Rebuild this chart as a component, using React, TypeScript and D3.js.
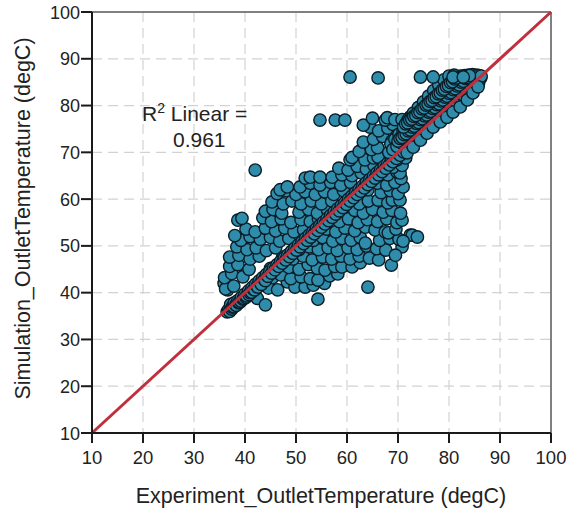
import React from "react";
import * as d3 from "d3";

const xTicks = [10, 20, 30, 40, 50, 60, 70, 80, 90, 100];
const yTicks = [10, 20, 30, 40, 50, 60, 70, 80, 90, 100];
const xTitle = "Experiment_OutletTemperature (degC)";
const yTitle = "Simulation_OutletTemperature (degC)";
const r2Value = "0.961";

// scattered cloud of observations [experiment, simulation]
const cloudPoints: [number, number][] = [
  [42.4, 38.8], [44.0, 37.4], [54.3, 38.6], [36.6, 40.6], [35.9, 42.0],
  [36.2, 40.8], [37.8, 41.4], [44.6, 41.0], [46.4, 40.6], [48.3, 42.3], [49.8, 41.2], [51.8, 41.2], [53.4, 41.6], [55.6, 42.0], [64.1, 41.2],
  [36.0, 43.2], [37.4, 44.1], [39.6, 43.4], [45.4, 43.2], [47.0, 43.8], [49.0, 43.0], [51.0, 43.4], [52.8, 43.0], [54.3, 42.7], [56.6, 43.6], [58.2, 44.0],
  [37.0, 45.6], [38.6, 46.0], [40.8, 45.0], [45.0, 45.2], [46.8, 46.0], [48.6, 45.4], [50.6, 45.0], [52.4, 46.0], [54.2, 45.2], [55.7, 44.8], [57.6, 45.6], [59.0, 45.5], [61.0, 45.5], [62.6, 46.4],
  [37.0, 47.6], [38.8, 48.0], [41.0, 47.2], [42.8, 47.8], [47.4, 47.6], [49.4, 47.2], [51.4, 47.8], [53.2, 47.0], [55.2, 47.6], [57.0, 47.2], [58.8, 47.8], [60.6, 47.2], [62.4, 47.8], [64.4, 47.4], [66.2, 47.0], [68.7, 45.9],
  [38.4, 49.8], [40.4, 49.2], [42.2, 49.6], [44.2, 49.0], [46.0, 49.6], [50.6, 49.2], [52.6, 49.8], [54.4, 49.2], [56.3, 49.6], [58.1, 49.0], [60.2, 49.6], [62.0, 49.2], [63.8, 50.0], [65.8, 49.4], [67.6, 49.1], [70.8, 49.8], [69.5, 48.0],
  [39.2, 51.2], [41.0, 52.0], [43.0, 51.4], [45.0, 51.8], [46.8, 51.0], [48.6, 51.6], [53.4, 51.2], [55.2, 51.8], [57.2, 51.0], [59.0, 51.6], [60.8, 51.2], [62.6, 51.8], [63.6, 50.6], [66.4, 51.2], [68.4, 51.6], [70.2, 51.4], [72.4, 52.3],
  [38.0, 52.2], [40.2, 53.6], [42.0, 53.0], [44.0, 53.8], [46.0, 53.2], [47.8, 53.8], [49.6, 53.0], [51.5, 53.4], [56.0, 53.6], [57.8, 53.0], [59.6, 53.8], [61.5, 53.2], [63.6, 54.0], [65.5, 53.4], [67.5, 53.0], [68.1, 52.8], [69.6, 53.6], [72.8, 52.3], [73.8, 51.9], [71.0, 51.0],
  [38.6, 55.5], [39.4, 55.9], [43.5, 56.0], [45.2, 55.2], [47.1, 55.8], [49.0, 55.0], [51.0, 55.6], [52.8, 55.2], [54.4, 55.8], [58.5, 55.2], [60.3, 55.8], [62.2, 55.0], [64.0, 55.6], [66.0, 55.2], [67.8, 55.8], [69.8, 55.0], [70.8, 55.5],
  [44.0, 57.4], [45.5, 57.8], [47.2, 57.0], [50.6, 57.2], [52.5, 57.8], [54.2, 57.0], [56.2, 57.6], [58.0, 57.2], [61.5, 57.6], [63.2, 57.0], [65.0, 57.8], [67.1, 57.2], [68.8, 57.6], [70.5, 57.0],
  [45.3, 59.4], [47.5, 59.0], [49.2, 59.6], [51.0, 59.0], [53.0, 59.6], [55.0, 59.0], [57.0, 59.6], [62.4, 59.0], [64.2, 59.6], [66.1, 59.8], [68.0, 59.2], [68.9, 59.8], [70.4, 59.8],
  [46.3, 61.2], [48.1, 61.8], [50.0, 61.0], [51.8, 61.6], [53.8, 61.0], [55.6, 61.6], [57.4, 61.0], [59.3, 61.8], [64.1, 62.0], [66.7, 61.4], [68.5, 61.8], [70.0, 61.2], [71.0, 62.6],
  [46.9, 62.0], [48.3, 62.6], [50.8, 62.6], [52.8, 63.4], [54.7, 63.0], [56.8, 63.6], [58.8, 63.0], [60.7, 63.6], [66.0, 63.4], [67.8, 63.0], [69.4, 63.6], [70.6, 64.4],
  [51.8, 64.5], [52.8, 64.7], [54.7, 64.7], [57.1, 64.7], [59.0, 65.2], [61.0, 65.0], [62.8, 65.6], [68.0, 65.2], [69.8, 65.8], [70.4, 65.6],
  [58.4, 66.6], [60.2, 66.2], [62.0, 67.0], [63.8, 66.4], [65.3, 67.2], [69.0, 66.8], [70.8, 67.2],
  [60.6, 68.4], [61.0, 68.9], [63.5, 68.4], [65.2, 68.8], [66.1, 69.0], [69.8, 68.4], [71.5, 68.8],
  [62.4, 70.2], [64.8, 70.6], [66.0, 71.0], [68.9, 70.5], [71.2, 70.4],
  [63.2, 72.2], [65.2, 72.8], [67.0, 73.4], [68.8, 72.4], [70.5, 72.6],
  [64.5, 75.4], [66.2, 74.6], [68.0, 75.2], [70.0, 74.0], [69.0, 76.0],
  [54.7, 76.9], [57.7, 76.9], [59.6, 76.9], [63.2, 75.8], [65.0, 77.3], [67.5, 76.9], [67.9, 77.4], [69.4, 77.0], [70.8, 77.0], [72.4, 77.6],
  [42.0, 66.2],
];

// dense band of observations near the identity line
const bandPoints: [number, number][] = [
  [36.5, 35.9], [36.8, 36.4], [37.0, 36.0], [37.2, 37.5], [37.4, 36.5], [37.5, 36.9], [37.8, 37.0], [37.9, 37.8], [38.2, 37.4], [38.3, 37.3],
  [38.6, 38.3], [38.8, 37.8], [38.9, 38.0], [39.2, 38.2], [39.3, 39.0], [39.6, 38.6], [39.8, 38.8], [40.0, 39.7], [40.2, 39.0], [40.3, 39.3],
  [40.7, 40.4], [40.8, 39.6], [41.0, 40.0], [41.3, 40.1], [41.4, 41.1], [41.7, 40.7], [41.9, 40.6], [42.1, 41.8], [42.4, 41.4], [42.5, 41.2],
  [42.8, 42.5], [43.1, 42.1], [43.2, 41.8], [43.5, 43.2], [43.8, 42.8], [44.0, 42.6], [44.2, 43.9], [44.5, 43.5], [44.9, 44.6], [45.2, 44.2],
  [45.6, 45.3], [45.9, 44.9], [46.3, 46.0], [46.6, 45.6], [47.0, 46.7], [47.3, 46.3], [47.7, 47.4], [48.0, 47.0], [48.4, 48.1], [48.7, 47.7],
  [49.1, 48.8], [49.4, 48.4], [49.8, 49.5], [50.1, 49.1], [50.5, 50.2], [50.8, 49.8], [51.2, 50.9], [51.5, 50.5], [51.9, 51.6], [52.2, 51.2],
  [52.6, 52.3], [52.9, 51.9], [53.3, 53.0], [53.6, 52.6], [54.0, 53.7], [54.3, 53.3], [54.7, 54.4], [55.0, 54.0], [55.4, 55.1], [55.7, 54.7],
  [56.1, 55.8], [56.4, 55.4], [56.8, 56.5], [57.1, 56.1], [57.5, 57.2], [57.8, 56.8], [58.2, 57.9], [58.5, 57.5], [58.9, 58.6], [59.2, 58.2],
  [59.6, 59.3], [59.9, 58.9], [60.3, 60.0], [60.6, 59.6], [61.0, 60.7], [61.3, 60.3], [61.7, 61.4], [62.0, 61.0], [62.4, 62.1], [62.7, 61.7],
  [63.1, 62.8], [63.4, 62.4], [63.8, 63.5], [64.1, 63.1], [64.5, 64.2], [64.8, 63.8], [65.2, 64.9], [65.5, 64.5], [65.9, 65.6], [66.2, 65.2],
  [66.6, 66.3], [66.9, 65.9], [67.3, 67.0], [67.6, 66.6], [68.0, 67.7], [68.3, 67.3], [68.7, 68.4], [69.0, 68.0], [69.4, 69.1], [69.7, 68.7],
  [70.1, 69.8], [70.4, 69.4], [70.8, 70.5], [71.1, 70.1], [71.5, 71.2], [71.8, 70.8], [72.2, 71.9], [72.5, 71.5], [72.9, 72.6], [73.2, 72.2],
  [73.6, 73.3], [73.9, 72.9], [74.3, 74.0], [74.6, 73.6], [75.0, 74.7], [75.3, 74.3], [75.7, 75.4], [76.0, 75.0], [76.4, 76.1], [76.7, 75.7],
  [77.1, 76.8], [77.4, 76.4], [77.8, 77.5], [78.1, 77.1], [78.5, 78.2], [78.8, 77.8], [79.2, 78.9], [79.5, 78.5], [79.9, 79.6], [80.2, 79.2],
  [80.6, 80.3], [80.9, 79.9], [81.3, 81.0], [81.6, 80.6], [82.0, 81.7], [82.3, 81.3], [82.7, 82.4], [83.0, 82.0], [83.4, 83.1], [83.7, 82.7],
  [84.1, 83.8], [84.4, 83.4], [84.8, 84.5], [85.1, 84.1], [85.5, 85.2], [85.8, 84.8], [86.2, 85.9],
];

// upper-right wedge of observations just above the identity line
const wedgePoints: [number, number][] = [
  [68.2, 70.0], [68.6, 71.8], [69.0, 70.6], [69.4, 72.8], [69.8, 71.3], [70.2, 73.9], [70.6, 72.1], [71.0, 74.6], [71.4, 72.9], [71.8, 75.5],
  [72.2, 73.6], [72.6, 76.4], [73.0, 74.5], [73.4, 77.3], [73.8, 75.2], [74.2, 78.0], [74.6, 76.1], [75.0, 79.0], [75.4, 76.9], [75.8, 79.8],
  [76.2, 77.6], [76.6, 80.7], [77.0, 78.5], [77.4, 81.6], [77.8, 79.2], [78.2, 82.5], [78.6, 80.1], [79.0, 83.3], [79.4, 80.9], [79.8, 84.2],
  [80.2, 81.7], [80.6, 85.0], [81.0, 82.5], [81.4, 85.8], [81.8, 83.2], [82.2, 86.3], [82.6, 84.0], [83.0, 86.4], [83.4, 84.9], [83.8, 86.5],
  [84.2, 85.6], [84.6, 86.6], [85.0, 86.2], [85.4, 86.5], [85.9, 86.4], [86.3, 86.3],
  [72.0, 77.0], [73.0, 78.4], [74.0, 79.6], [75.0, 80.8], [76.0, 82.0], [77.0, 83.2], [78.0, 84.4], [79.0, 85.5], [80.0, 86.3], [81.0, 86.5],
  [71.0, 73.2], [72.4, 74.8], [73.6, 76.2], [74.8, 77.5], [76.0, 78.9], [77.2, 80.2], [78.4, 81.4], [79.6, 82.8], [80.8, 84.1], [82.0, 85.2],
  [70.0, 72.4], [70.4, 73.0], [70.8, 73.2], [71.2, 73.8], [71.6, 74.0], [72.0, 74.6], [72.4, 74.8], [72.8, 75.4], [73.2, 75.6], [73.6, 76.2],
  [74.0, 76.4], [74.4, 77.0], [74.8, 77.2], [75.2, 77.8], [75.6, 78.0], [76.0, 78.6], [76.4, 78.8], [76.8, 79.4], [77.2, 79.6], [77.6, 80.2],
  [78.0, 80.4], [78.4, 81.0], [78.8, 81.2], [79.2, 81.8], [79.6, 82.0], [80.0, 82.6], [80.4, 82.8], [80.8, 83.4], [81.2, 83.6], [81.6, 84.2],
  [82.0, 84.4], [82.4, 85.0], [82.8, 85.2], [83.2, 85.8], [83.6, 86.0], [84.0, 86.4],
  [71.1, 75.4], [71.5, 76.1], [71.9, 76.3], [72.3, 76.9], [72.7, 77.1], [73.1, 77.7], [73.5, 77.9], [73.9, 78.5], [74.3, 78.7], [74.7, 79.3],
  [75.1, 79.5], [75.5, 80.1], [75.9, 80.3], [76.3, 80.9], [76.7, 81.1], [77.1, 81.7], [77.5, 81.9], [77.9, 82.5], [78.3, 82.7], [78.7, 83.3],
  [79.1, 83.5], [79.5, 84.1], [79.9, 84.3], [80.3, 84.9], [80.7, 85.1], [81.1, 85.7], [81.5, 85.9],
];

// visible points on top: lower edge of the band and the 86 degC row
const topPoints: [number, number][] = [
  [71.8, 69.9], [73.0, 71.1], [74.4, 72.6], [75.7, 74.1], [76.9, 75.4], [78.3, 76.5], [79.6, 77.5], [80.8, 78.6], [82.2, 79.7], [83.6, 81.2],
  [84.7, 82.7], [85.7, 84.0],
  [60.6, 86.1], [66.1, 85.9], [74.4, 86.1], [76.9, 86.1], [80.8, 86.1], [82.8, 86.1],
];

const W = 569;
const H = 511;
const left = 92, right = 551, top = 12, bottom = 433;
const FONT = "'Liberation Sans', Arial, sans-serif";

export default function App() {
  const x = d3.scaleLinear().domain([10, 100]).range([left, right]);
  const y = d3.scaleLinear().domain([10, 100]).range([bottom, top]);
  const all = [...cloudPoints, ...bandPoints, ...wedgePoints, ...topPoints];
  const gridX = xTicks.filter((t) => t > 10 && t < 100);
  const gridY = yTicks.filter((t) => t > 10 && t < 100);
  return (
    <svg width={W} height={H} style={{ position: "absolute", left: 0, top: 0, background: "#fff" }} fontFamily={FONT}>
      <rect x={0} y={0} width={W} height={H} fill="#fff" />
      {gridX.map((t) => (
        <line key={"gx" + t} x1={x(t)} x2={x(t)} y1={top} y2={bottom} stroke="#d2d2d2" strokeWidth={1.2} strokeDasharray="10,6" />
      ))}
      {gridY.map((t) => (
        <line key={"gy" + t} x1={left} x2={right} y1={y(t)} y2={y(t)} stroke="#d2d2d2" strokeWidth={1.2} strokeDasharray="10,6" />
      ))}
      <line x1={left} x2={right} y1={top} y2={top} stroke="#808080" strokeWidth={2} />
      <line x1={right} x2={right} y1={top} y2={bottom} stroke="#808080" strokeWidth={2} />
      {all.map((p, i) => (
        <circle key={i} cx={x(p[0])} cy={y(p[1])} r={6.2} fill="#2f8cab" stroke="#0a1d26" strokeWidth={1.4} />
      ))}
      <line x1={x(10)} y1={y(10)} x2={x(100)} y2={y(100)} stroke="#c02f3c" strokeWidth={3} />
      <line x1={left} x2={left} y1={top} y2={bottom} stroke="#1a1a1a" strokeWidth={2} />
      <line x1={left} x2={right} y1={bottom} y2={bottom} stroke="#1a1a1a" strokeWidth={2} />
      {xTicks.map((t) => (
        <g key={"xt" + t}>
          <line x1={x(t)} x2={x(t)} y1={bottom} y2={bottom + 10} stroke="#1a1a1a" strokeWidth={2} />
          <text x={x(t)} y={bottom + 31} textAnchor="middle" fontSize={18.5} fill="#222">{t}</text>
        </g>
      ))}
      {yTicks.map((t) => (
        <g key={"yt" + t}>
          <line x1={left - 11} x2={left} y1={y(t)} y2={y(t)} stroke="#1a1a1a" strokeWidth={2} />
          <text x={left - 12} y={y(t) + 6.5} textAnchor="end" fontSize={18} fill="#222">{t}</text>
        </g>
      ))}
      <text x={321} y={503} textAnchor="middle" fontSize={21.5} fill="#222">{xTitle}</text>
      <text transform={`translate(30,218.5) rotate(-90)`} textAnchor="middle" fontSize={21.5} fill="#222">{yTitle}</text>
      <text x={142} y={121} fontSize={21} fill="#222">
        R<tspan dy={-8} fontSize={14}>2</tspan><tspan dy={8}>{" Linear ="}</tspan>
      </text>
      <text x={173} y={147} fontSize={21} fill="#222">{r2Value}</text>
    </svg>
  );
}
